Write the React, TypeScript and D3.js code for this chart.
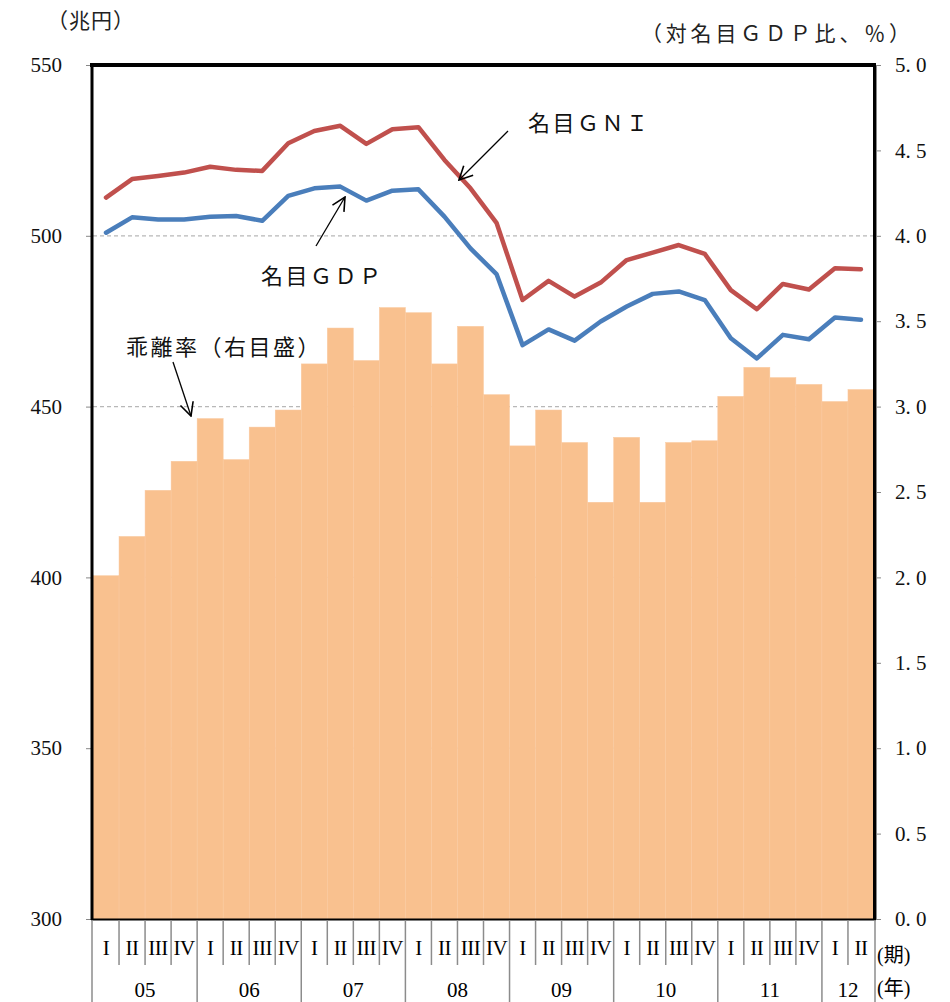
import React, { useEffect, useRef } from 'react';
import * as d3 from 'd3';

const WIDTH = 950;
const HEIGHT = 1002;

// 2005 I - 2012 II
const years = ['05', '06', '07', '08', '09', '10', '11', '12'];
const quarterNames = ['I', 'II', 'III', 'IV'];

// 兆円
const gni = [
  511.2, 516.6, 517.5, 518.5, 520.2, 519.3, 519.0, 527.1, 530.7, 532.2,
  526.9, 531.2, 531.8, 522.2, 513.9, 503.8, 481.2, 486.8, 482.2, 486.3,
  492.9, 495.1, 497.3, 494.7, 484.1, 478.5, 485.9, 484.3, 490.5, 490.2,
];
const gdp = [
  500.9, 505.4, 504.8, 504.8, 505.6, 505.8, 504.4, 511.7, 513.9, 514.4,
  510.3, 513.2, 513.6, 505.6, 496.3, 488.8, 468.0, 472.6, 469.3, 474.9,
  479.3, 483.0, 483.7, 481.2, 470.0, 464.1, 471.0, 469.7, 476.1, 475.4,
];
// 対名目GDP比、%
const gapRate = [
  2.01, 2.24, 2.51, 2.68, 2.93, 2.69, 2.88, 2.98, 3.25, 3.46,
  3.27, 3.58, 3.55, 3.25, 3.47, 3.07, 2.77, 2.98, 2.79, 2.44,
  2.82, 2.44, 2.79, 2.80, 3.06, 3.23, 3.17, 3.13, 3.03, 3.10,
];

const leftTicks = [300, 350, 400, 450, 500, 550];
const rightTicks = [0, 0.5, 1, 1.5, 2, 2.5, 3, 3.5, 4, 4.5, 5];
const gridValues = [350, 400, 450, 500];

const SERIF = '"Liberation Serif", "DejaVu Serif", "Noto Sans CJK JP", serif';

export default function App() {
  const ref = useRef(null);

  useEffect(() => {
    const svg = d3.select(ref.current);
    svg.selectAll('*').remove();

    const left = 93, right = 874, top = 65, bottom = 919;
    const periods = years.flatMap((y) => quarterNames.map((q) => ({ year: y, q }))).slice(0, gapRate.length);
    const idx = periods.map((_, i) => i);

    const x = d3.scaleBand().domain(idx).range([left, right]).padding(0);
    const yL = d3.scaleLinear().domain([300, 550]).range([bottom, top]);
    const yR = d3.scaleLinear().domain([0, 5]).range([bottom, top]);

    // grid
    svg.append('g').selectAll('line').data(gridValues).enter().append('line')
      .attr('x1', left).attr('x2', right)
      .attr('y1', (d) => yL(d)).attr('y2', (d) => yL(d))
      .attr('stroke', '#b8b8b8').attr('stroke-width', 1.2).attr('stroke-dasharray', '4,3');

    // bars
    svg.append('g').selectAll('rect').data(gapRate).enter().append('rect')
      .attr('x', (_, i) => x(i))
      .attr('width', x.bandwidth())
      .attr('y', (d) => yR(d))
      .attr('height', (d) => bottom - yR(d))
      .attr('fill', '#F9C18F')
      .attr('stroke', '#FAC9A0').attr('stroke-width', 0.5);

    const lineGen = d3.line()
      .x((_, i) => x(i) + x.bandwidth() / 2)
      .y((d) => yL(d));

    svg.append('path').datum(gni).attr('d', lineGen)
      .attr('fill', 'none').attr('stroke', '#C0504D').attr('stroke-width', 4.5)
      .attr('stroke-linejoin', 'round').attr('stroke-linecap', 'round');
    svg.append('path').datum(gdp).attr('d', lineGen)
      .attr('fill', 'none').attr('stroke', '#4A7EBB').attr('stroke-width', 4.5)
      .attr('stroke-linejoin', 'round').attr('stroke-linecap', 'round');

    // left axis
    const axL = svg.append('g').attr('transform', `translate(${left - 2},0)`)
      .call(d3.axisLeft(yL).tickValues(leftTicks).tickSize(5).tickPadding(24).tickFormat(d3.format('d')))
      .attr('font-family', SERIF).attr('font-size', 21);
    axL.select('.domain').attr('stroke', '#888');
    axL.selectAll('.tick line').attr('stroke', '#888');
    axL.selectAll('text').attr('font-family', SERIF).attr('font-size', 21).attr('fill', '#111');

    // right axis
    const axR = svg.append('g').attr('transform', `translate(${right + 2},0)`)
      .call(d3.axisRight(yR).tickValues(rightTicks).tickSize(5).tickPadding(14)
        .tickFormat((d) => d.toFixed(1).replace('.', '. ')))
      .attr('font-family', SERIF).attr('font-size', 21);
    axR.select('.domain').attr('stroke', '#888');
    axR.selectAll('.tick line').attr('stroke', '#888');
    axR.selectAll('text').attr('font-family', SERIF).attr('font-size', 21).attr('fill', '#111')
      .attr('xml:space', 'preserve');

    // frame
    const frame = svg.append('g').attr('stroke', '#000').attr('fill', 'none');
    frame.append('line').attr('x1', left - 3).attr('x2', right + 2).attr('y1', top).attr('y2', top).attr('stroke-width', 4);
    frame.append('line').attr('x1', left - 1).attr('x2', left - 1).attr('y1', top).attr('y2', bottom + 1).attr('stroke-width', 3);
    frame.append('line').attr('x1', right + 0.5).attr('x2', right + 0.5).attr('y1', top).attr('y2', bottom + 1).attr('stroke-width', 3);
    frame.append('line').attr('x1', left - 2).attr('x2', right + 2).attr('y1', bottom + 0.5).attr('y2', bottom + 0.5).attr('stroke-width', 2);

    // bottom category axis (two levels)
    const cat = svg.append('g');
    cat.selectAll('line.q').data(idx.slice(1)).enter().append('line')
      .attr('x1', (i) => x(i)).attr('x2', (i) => x(i))
      .attr('y1', bottom + 1)
      .attr('y2', (i) => (periods[i].q === 'I' ? HEIGHT : 965))
      .attr('stroke', '#8c8c8c').attr('stroke-width', 1.5);
    [left - 1, right + 1].forEach((xx) => {
      cat.append('line').attr('x1', xx).attr('x2', xx).attr('y1', bottom + 1).attr('y2', HEIGHT)
        .attr('stroke', '#8c8c8c').attr('stroke-width', 1.5);
    });
    cat.selectAll('text.q').data(periods).enter().append('text')
      .attr('x', (_, i) => x(i) + x.bandwidth() / 2)
      .attr('y', 955)
      .attr('text-anchor', 'middle')
      .attr('font-family', SERIF).attr('font-size', 21).attr('letter-spacing', -0.5)
      .text((d) => d.q);
    const yearGroups = years.map((y) => {
      const ids = idx.filter((i) => periods[i].year === y);
      return { year: y, x0: x(ids[0]), x1: x(ids[ids.length - 1]) + x.bandwidth() };
    });
    cat.selectAll('text.y').data(yearGroups).enter().append('text')
      .attr('x', (d) => (d.x0 + d.x1) / 2)
      .attr('y', 997)
      .attr('text-anchor', 'middle')
      .attr('font-family', SERIF).attr('font-size', 21)
      .text((d) => d.year);
    cat.append('text').attr('x', 877).attr('y', 962).attr('font-family', SERIF).attr('font-size', 20).text('(期)');
    cat.append('text').attr('x', 877).attr('y', 995).attr('font-family', SERIF).attr('font-size', 20).text('(年)');

    // unit labels
    svg.append('text').attr('x', 47).attr('y', 28).attr('font-family', SERIF).attr('font-size', 21)
      .attr('letter-spacing', 1).attr('fill', '#222').text('（兆円）');
    svg.append('text').attr('x', 641).attr('y', 41).attr('font-family', SERIF).attr('font-size', 21)
      .attr('letter-spacing', 3.8).attr('fill', '#222').text('（対名目ＧＤＰ比、％）');

    // annotations
    const defs = svg.append('defs');
    defs.append('marker').attr('id', 'arr').attr('viewBox', '0 0 12 12')
      .attr('refX', 11).attr('refY', 6).attr('markerWidth', 16).attr('markerHeight', 16)
      .attr('markerUnits', 'userSpaceOnUse').attr('orient', 'auto')
      .append('path').attr('d', 'M1,1 L11,6 L1,11').attr('fill', 'none').attr('stroke', '#000').attr('stroke-width', 1.2);

    const notes = [
      { text: '名目ＧＮＩ', tx: 528, ty: 131, x1: 508, y1: 131, x2: 459, y2: 180 },
      { text: '名目ＧＤＰ', tx: 261, ty: 284, x1: 316, y1: 246, x2: 345, y2: 197 },
      { text: '乖離率（右目盛）', tx: 126, ty: 355, x1: 173, y1: 362, x2: 191, y2: 416 },
    ];
    notes.forEach((n) => {
      svg.append('text').attr('x', n.tx).attr('y', n.ty).attr('font-family', SERIF)
        .attr('font-size', 22).attr('letter-spacing', 2.5).attr('fill', '#111').text(n.text);
      svg.append('line').attr('x1', n.x1).attr('y1', n.y1).attr('x2', n.x2).attr('y2', n.y2)
        .attr('stroke', '#000').attr('stroke-width', 1.3).attr('marker-end', 'url(#arr)');
    });
  }, []);

  return (
    <svg
      ref={ref}
      width={WIDTH}
      height={HEIGHT}
      style={{ position: 'absolute', left: 0, top: 0, background: '#fff' }}
    ></svg>
  );
}
